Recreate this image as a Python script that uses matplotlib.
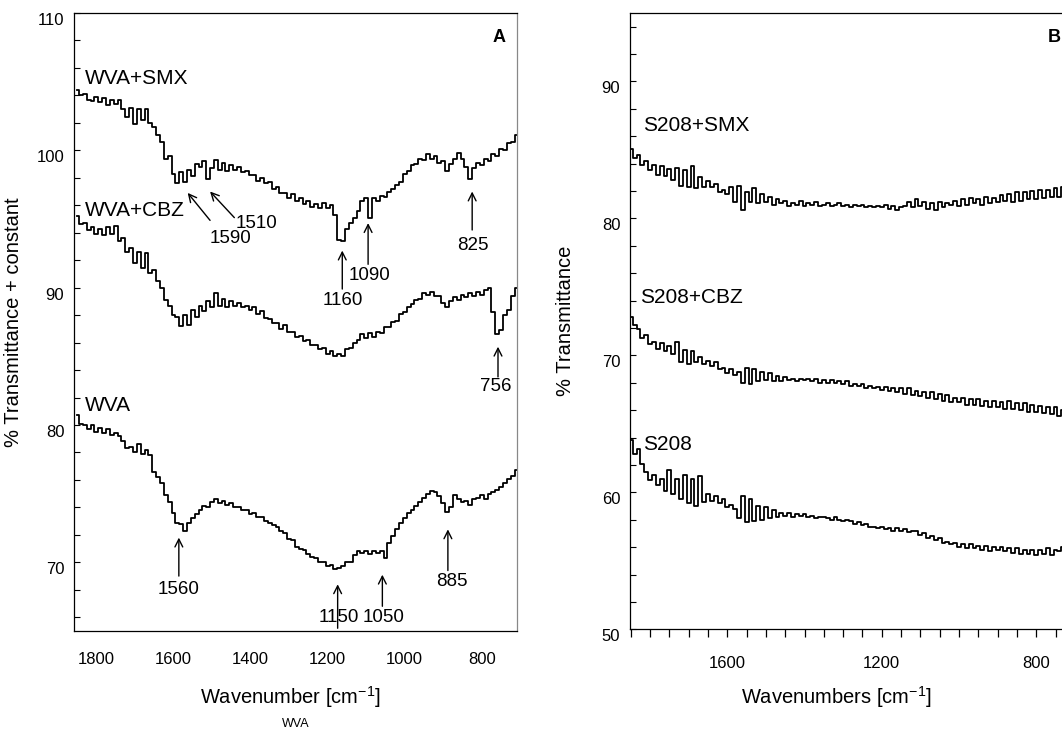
import matplotlib
matplotlib.use("Agg")
import matplotlib.pyplot as plt
from matplotlib.ticker import MultipleLocator

# wavenumber grid shared by all spectra (cm-1), 1850 down to 710 in steps of 10
WAVENUMBERS = list(range(1850, 700, -10))

# panel A: WVA spectra (% transmittance + constant), one row per 100 cm-1
WVA_SMX = [
    104.4, 104.0, 104.1, 103.7, 103.6, 103.9, 103.5, 103.8, 103.3, 103.7,
    103.4, 103.7, 103.0, 102.4, 103.1, 101.9, 103.0, 102.2, 103.0, 102.0,
    101.7, 101.1, 100.6, 99.4, 99.6, 98.3, 97.6, 98.4, 97.7, 98.6,
    98.1, 99.0, 98.8, 99.2, 97.9, 98.7, 99.3, 98.6, 99.1, 98.5,
    98.9, 98.6, 98.8, 98.4, 98.5, 98.2, 98.2, 97.8, 98.0, 97.6,
    97.7, 97.2, 97.3, 96.9, 96.9, 96.5, 96.8, 96.3, 96.5, 96.1,
    96.3, 95.9, 96.1, 95.8, 96.2, 95.8, 96.0, 95.3, 93.5, 93.4,
    94.3, 94.7, 95.1, 95.6, 96.3, 96.5, 95.1, 96.5, 96.3, 96.7,
    96.6, 97.0, 97.2, 97.5, 97.7, 98.3, 98.5, 98.9, 99.0, 99.4,
    99.3, 99.7, 99.4, 99.6, 99.1, 99.2, 98.5, 99.0, 99.4, 99.8,
    99.4, 98.8, 97.9, 98.7, 99.1, 98.9, 99.4, 99.2, 99.7, 99.6,
    100.1, 100.0, 100.5, 100.6, 101.1,
]
WVA_CBZ = [
    95.2, 94.6, 94.7, 94.2, 94.4, 93.9, 94.3, 93.8, 94.4, 93.9,
    94.5, 93.4, 93.6, 92.6, 92.9, 91.8, 92.6, 91.4, 92.5, 91.1,
    91.3, 90.5, 90.0, 89.1, 88.7, 88.0, 87.9, 87.2, 88.0, 87.3,
    88.4, 87.9, 88.7, 88.3, 89.0, 88.6, 89.6, 88.7, 89.2, 88.6,
    89.0, 88.7, 88.9, 88.6, 88.7, 88.4, 88.6, 88.1, 88.3, 87.8,
    87.7, 87.4, 87.4, 87.0, 87.3, 86.8, 86.8, 86.4, 86.5, 86.1,
    86.2, 85.8, 85.8, 85.5, 85.6, 85.2, 85.4, 85.0, 85.2, 85.0,
    85.5, 85.6, 86.0, 86.2, 86.6, 86.3, 86.7, 86.4, 86.8, 86.7,
    87.1, 87.1, 87.5, 87.6, 88.1, 88.2, 88.6, 88.8, 89.1, 89.2,
    89.6, 89.5, 89.7, 89.4, 89.4, 88.9, 88.6, 89.0, 89.3, 89.1,
    89.5, 89.3, 89.6, 89.4, 89.7, 89.5, 89.8, 90.0, 88.2, 86.6,
    86.9, 88.0, 88.4, 89.4, 90.0,
]
WVA = [
    80.7, 80.1, 80.0, 79.7, 80.0, 79.5, 79.8, 79.4, 79.7, 79.3,
    79.4, 79.2, 78.8, 78.3, 78.4, 78.0, 78.6, 77.9, 78.2, 77.8,
    76.6, 76.2, 75.8, 74.9, 74.4, 73.6, 72.9, 72.8, 72.3, 72.9,
    73.2, 73.5, 73.8, 74.1, 74.0, 74.4, 74.6, 74.3, 74.5, 74.2,
    74.3, 74.0, 74.0, 73.8, 73.8, 73.5, 73.6, 73.3, 73.3, 73.0,
    72.9, 72.7, 72.6, 72.3, 72.1, 71.7, 71.6, 71.1, 71.0, 70.9,
    70.6, 70.4, 70.3, 70.0, 70.0, 69.7, 69.8, 69.5, 69.6, 69.7,
    70.0, 70.0, 70.5, 70.8, 70.7, 70.8, 70.6, 70.8, 70.7, 70.8,
    70.3, 71.4, 71.9, 72.4, 72.9, 73.2, 73.6, 73.8, 74.1, 74.4,
    74.7, 75.0, 75.2, 75.1, 74.8, 74.3, 73.7, 74.0, 74.9, 74.6,
    74.4, 74.5, 74.2, 74.6, 74.7, 74.9, 74.6, 75.0, 75.1, 75.3,
    75.5, 75.8, 76.1, 76.3, 76.7,
]

# panel B: S208 spectra (% transmittance)
S208_SMX = [
    85.1, 84.4, 84.6, 83.9, 84.2, 83.5, 83.9, 83.2, 83.8, 83.1,
    83.6, 82.8, 83.7, 82.4, 83.5, 82.3, 83.8, 82.2, 83.0, 82.3,
    82.7, 82.3, 82.5, 81.9, 82.1, 81.8, 82.3, 81.2, 82.4, 80.6,
    81.9, 81.2, 82.2, 81.1, 81.8, 81.2, 81.6, 81.0, 81.4, 81.1,
    81.3, 80.9, 81.1, 81.0, 81.3, 80.9, 81.1, 81.0, 81.2, 80.9,
    81.0, 81.1, 80.9, 81.0, 81.1, 80.9, 81.0, 80.8, 81.0, 80.9,
    81.0, 80.8, 80.9, 80.8, 80.9, 80.8, 81.0, 80.7, 80.9, 80.6,
    80.8, 80.9, 81.2, 80.8, 81.4, 80.9, 81.2, 80.7, 81.1, 80.6,
    81.2, 80.8, 81.1, 81.0, 81.3, 80.9, 81.4, 81.0, 81.5, 81.1,
    81.4, 81.0, 81.6, 81.1, 81.5, 81.2, 81.7, 81.3, 81.8, 81.2,
    81.9, 81.3, 81.9, 81.4, 82.0, 81.4, 82.1, 81.5, 82.1, 81.6,
    82.2, 81.6, 82.3, 81.8, 82.2,
]
S208_CBZ = [
    72.8, 72.2, 71.9, 71.3, 71.5, 70.8, 71.0, 70.5, 70.9, 70.3,
    70.7, 70.1, 71.0, 69.5, 70.4, 69.4, 70.3, 69.5, 69.9, 69.4,
    69.6, 69.2, 69.5, 69.0, 69.1, 68.7, 69.0, 68.6, 68.8, 68.0,
    69.1, 67.9, 69.0, 68.1, 68.8, 68.2, 68.7, 68.1, 68.5, 68.1,
    68.4, 68.2, 68.3, 68.1, 68.3, 68.2, 68.3, 68.1, 68.3, 68.0,
    68.2, 68.0, 68.2, 68.0, 68.1, 67.9, 68.1, 67.8, 67.9, 67.8,
    67.9, 67.6, 67.8, 67.6, 67.7, 67.5, 67.7, 67.4, 67.6, 67.3,
    67.6, 67.2, 67.6, 67.1, 67.4, 67.0, 67.3, 66.9, 67.3, 66.8,
    67.2, 66.7, 67.1, 66.6, 66.9, 66.6, 66.9, 66.4, 66.8, 66.4,
    66.8, 66.3, 66.7, 66.2, 66.7, 66.2, 66.6, 66.1, 66.7, 66.1,
    66.5, 66.0, 66.5, 65.9, 66.4, 65.9, 66.3, 65.8, 66.2, 65.7,
    66.2, 65.6, 66.0, 65.5, 65.9,
]
S208 = [
    63.8, 62.8, 63.2, 62.1, 61.5, 60.9, 61.3, 60.5, 61.0, 60.1,
    61.6, 59.9, 61.0, 59.5, 61.3, 59.2, 61.0, 59.0, 61.2, 59.3,
    59.9, 59.4, 59.7, 59.2, 59.5, 58.9, 59.1, 58.8, 58.1, 59.7,
    57.8, 59.5, 57.9, 59.0, 58.0, 58.9, 58.1, 58.7, 58.2, 58.5,
    58.3, 58.5, 58.2, 58.4, 58.3, 58.4, 58.2, 58.3, 58.1, 58.2,
    58.2, 58.1, 58.0, 58.2, 58.0, 57.9, 58.0, 57.9, 57.7, 57.8,
    57.6, 57.7, 57.5, 57.5, 57.4, 57.5, 57.3, 57.4, 57.2, 57.4,
    57.2, 57.3, 57.1, 57.2, 57.2, 56.9, 57.0, 56.7, 56.8, 56.5,
    56.7, 56.3, 56.4, 56.2, 56.3, 56.0, 56.2, 55.9, 56.2, 55.9,
    56.1, 55.8, 56.1, 55.7, 56.0, 55.8, 56.0, 55.7, 55.9, 55.6,
    55.9, 55.5, 55.8, 55.5, 55.8, 55.4, 55.8, 55.5, 55.9, 55.4,
    55.8, 55.7, 56.0, 55.6, 56.1,
]

# curve labels: (text, wavenumber, value)
LABELS_A = [("WVA+SMX", 1830, 105.2), ("WVA+CBZ", 1830, 95.6), ("WVA", 1830, 81.4)]
LABELS_B = [("S208+SMX", 1817, 86.8), ("S208+CBZ", 1826, 74.2), ("S208", 1817, 63.5)]

# band annotations: (text, text x, text y, arrow tail (x, y), arrow tip (x, y))
BANDS_A = [
    ("1590", 1453, 93.6, (1505, 94.9), (1563, 96.9)),
    ("1510", 1384, 94.7, (1442, 95.1), (1505, 97.0)),
    ("1160", 1161, 89.1, (1162, 89.9), (1162, 92.7)),
    ("1090", 1091, 90.85, (1095, 91.7), (1095, 94.7)),
    ("825", 823, 93.1, (825, 94.2), (825, 97.0)),
    ("756", 763, 82.8, (758, 83.5), (758, 85.7)),
    ("1560", 1586, 68.0, (1586, 69.0), (1586, 71.8)),
    ("1150", 1170, 66.0, (1174, 65.2), (1174, 68.4)),
    ("1050", 1054, 66.0, (1058, 66.8), (1058, 69.1)),
    ("885", 878, 68.6, (888, 69.4), (888, 72.4)),
]

FIG_W, FIG_H = 1062, 731


def setup_fonts() -> None:
    plt.rcParams["font.family"] = ["Liberation Sans", "DejaVu Sans"]
    plt.rcParams["mathtext.fontset"] = "custom"
    plt.rcParams["mathtext.rm"] = "Liberation Sans"
    plt.rcParams["mathtext.it"] = "Liberation Sans:italic"
    plt.rcParams["mathtext.bf"] = "Liberation Sans:bold"


def px_axes(fig, left, top, right, bottom):
    return fig.add_axes([
        left / FIG_W,
        1 - bottom / FIG_H,
        (right - left) / FIG_W,
        (bottom - top) / FIG_H,
    ])


def style_yaxis(ax, lo, hi) -> None:
    ax.set_ylim(lo, hi)
    ax.yaxis.set_major_locator(MultipleLocator(10))
    ax.yaxis.set_minor_locator(MultipleLocator(2))
    ax.tick_params(axis="y", which="both", direction="in", length=4.5,
                   width=0.8, labelsize=12, pad=7)
    ax.tick_params(axis="y", which="minor", labelleft=False)
    for lab in ax.yaxis.get_majorticklabels():
        lab.set_verticalalignment("top")


def draw_spectra(ax, series) -> None:
    for values in series:
        assert len(values) == len(WAVENUMBERS)
        ax.plot(WAVENUMBERS, values, color="black", lw=1.3, drawstyle="steps-mid")


def plot_panel_a(fig) -> None:
    ax = px_axes(fig, 74, 13, 516.5, 631)
    draw_spectra(ax, (WVA_SMX, WVA_CBZ, WVA))

    ax.set_xlim(1858, 710)
    ax.xaxis.set_major_locator(MultipleLocator(200))
    ax.tick_params(axis="x", length=0, labelsize=12, pad=15)
    style_yaxis(ax, 65, 110)
    ax.spines["right"].set_color("#888888")
    for sp in ax.spines.values():
        sp.set_linewidth(0.9)

    for text, x, y in LABELS_A:
        ax.text(x, y, text, fontsize=15, ha="left", va="center")

    for text, tx, ty, tail, tip in BANDS_A:
        ax.annotate("", xy=tip, xytext=tail,
                    arrowprops=dict(arrowstyle="->", lw=1.0, color="black",
                                    shrinkA=0, shrinkB=0, mutation_scale=14))
        ax.text(tx, ty, text, fontsize=13.5, ha="center", va="center")

    ax.text(0.96, 0.961, "A", transform=ax.transAxes, fontsize=13,
            fontweight="bold", ha="center", va="center")

    ax.set_xlabel("Wavenumber [cm$^{-1}$]", fontsize=14.5)
    ax.xaxis.label.set_verticalalignment("center")
    ax.xaxis.set_label_coords(0.49, -0.107)
    ax.set_ylabel("% Transmittance + constant", fontsize=14.5)
    ax.yaxis.label.set_verticalalignment("center")
    ax.yaxis.set_label_coords(-0.1356, 0.5)


def plot_panel_b(fig) -> None:
    ax = px_axes(fig, 630, 13, 1071, 629.3)
    draw_spectra(ax, (S208_SMX, S208_CBZ, S208))

    ax.set_xlim(1852, 710)
    ax.xaxis.set_major_locator(MultipleLocator(400))
    ax.xaxis.set_minor_locator(MultipleLocator(50))
    ax.tick_params(axis="x", which="both", direction="out", length=6,
                   width=0.9, labelsize=12, pad=13)
    style_yaxis(ax, 50, 95)
    for sp in ax.spines.values():
        sp.set_linewidth(0.9)

    for text, x, y in LABELS_B:
        ax.text(x, y, text, fontsize=15, ha="left", va="center")

    ax.text(0.962, 0.961, "B", transform=ax.transAxes, fontsize=13,
            fontweight="bold", ha="center", va="center")

    ax.set_xlabel("Wavenumbers [cm$^{-1}$]", fontsize=14.5)
    ax.xaxis.label.set_verticalalignment("center")
    ax.xaxis.set_label_coords(0.469, -0.11)
    ax.set_ylabel("% Transmittance", fontsize=14.5)
    ax.yaxis.label.set_verticalalignment("center")
    ax.yaxis.set_label_coords(-0.147, 0.5)


def main() -> None:
    setup_fonts()
    fig = plt.figure(figsize=(FIG_W / 100, FIG_H / 100), dpi=100)
    plot_panel_a(fig)
    plot_panel_b(fig)
    fig.text(296 / FIG_W, 1 - 724 / FIG_H, "WVA", fontsize=9,
             ha="center", va="center")
    fig.savefig("out.png", dpi=100)
    plt.close(fig)


if __name__ == "__main__":
    main()
